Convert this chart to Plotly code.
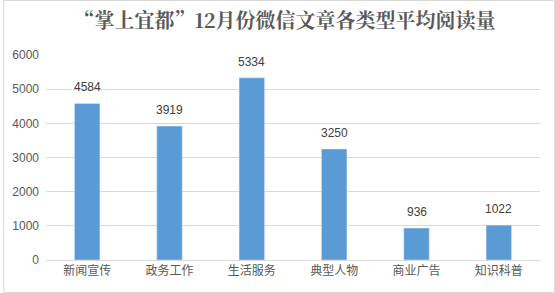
import plotly.graph_objects as go

categories = ["新闻宣传", "政务工作", "生活服务", "典型人物", "商业广告", "知识科普"]
values = [4584, 3919, 5334, 3250, 936, 1022]
tick_vals = [0, 1000, 2000, 3000, 4000, 5000, 6000]

W, H = 555, 293
L, R, T, B = 43, 15, 55, 33
pw, ph = W - L - R, H - T - B

fig = go.Figure(go.Bar(
    x=categories, y=values, marker_color="#5b9bd5", width=0.31,
))

for c, v in zip(categories, values):
    fig.add_annotation(x=c, y=v, text=str(v), showarrow=False, yanchor="bottom",
                       yshift=7, font=dict(size=12, color="#404040",
                                           family="Liberation Sans, Arial"))

def px_to_paper_x(px):
    return (px - L) / pw

def px_to_paper_y(py):
    return 1 - (py - T) / ph

fig.update_layout(
    width=W, height=H, margin=dict(l=L, r=R, t=T, b=B),
    paper_bgcolor="white", plot_bgcolor="white",
    title=dict(text="<b>“掌上宜都”12月份微信文章各类型平均阅读量</b>",
               x=285 / W, xanchor="center",
               y=1 - 21 / H, yanchor="middle",
               font=dict(size=20, color="#595959", family="Noto Serif CJK SC, Noto Sans CJK SC")),
    showlegend=False,
    xaxis=dict(showline=True, linecolor="#d9d9d9", linewidth=1, ticks="",
               tickfont=dict(size=12, color="#595959", family="Noto Sans CJK SC")),
    yaxis=dict(range=[0, 6000], tickvals=tick_vals, showgrid=True, gridcolor="#d9d9d9",
               gridwidth=1, zeroline=False, ticks="", ticklabelstandoff=6,
               tickfont=dict(size=12, color="#595959", family="Liberation Sans, Arial")),
    shapes=[dict(type="rect", xref="paper", yref="paper",
                 x0=px_to_paper_x(0.5), x1=px_to_paper_x(W - 0.5),
                 y0=px_to_paper_y(H - 0.5), y1=px_to_paper_y(0.5),
                 line=dict(color="#d9d9d9", width=1))],
)

fig.write_html("out.html")
